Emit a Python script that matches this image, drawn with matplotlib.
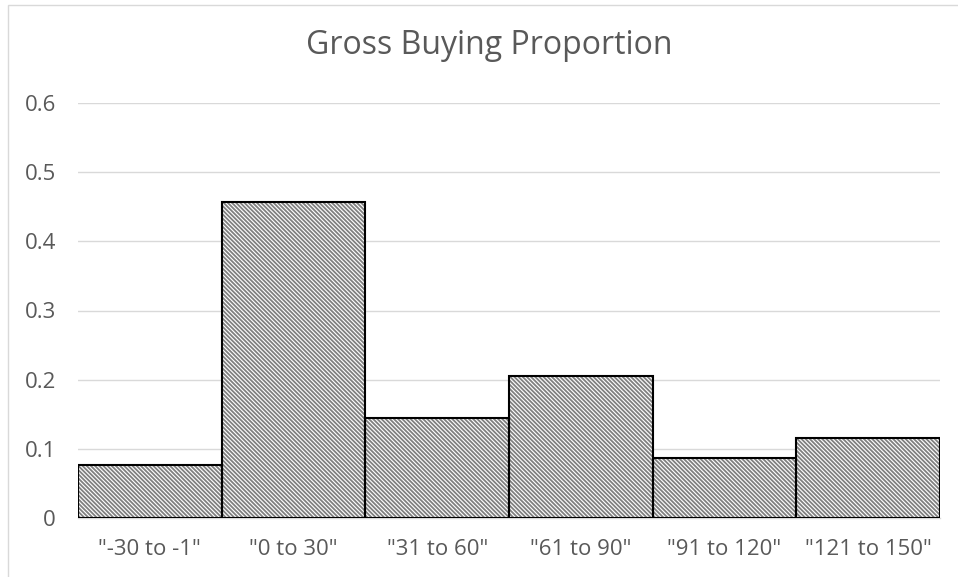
import matplotlib
matplotlib.use("Agg")
import matplotlib.pyplot as plt
import matplotlib.patches as patches

plt.rcParams['font.family'] = ['Open Sans', 'DejaVu Sans']
plt.rcParams['hatch.linewidth'] = 1.3

# data
categories = ['"-30 to -1"', '"0 to 30"', '"31 to 60"', '"61 to 90"', '"91 to 120"', '"121 to 150"']
proportion = [0.076, 0.457, 0.144, 0.205, 0.087, 0.115]
yticks = [0, 0.1, 0.2, 0.3, 0.4, 0.5, 0.6]
ytick_labels = ['0', '0.1', '0.2', '0.3', '0.4', '0.5', '0.6']

fig = plt.figure(figsize=(9.58, 5.77), dpi=100)
ax = fig.add_axes([78 / 958, 1 - 518 / 577, (940 - 78) / 958, (518 - 103) / 577])

x = range(len(categories))
# hatch fill in gray, then black outline on top
ax.bar(x, proportion, width=1.0, color='white', edgecolor='#808080',
       linewidth=0, hatch='\\\\\\\\\\\\\\\\', zorder=3)
ax.bar(x, proportion, width=1.0, fill=False, edgecolor='black',
       linewidth=1.5, zorder=4)

ax.set_xlim(-0.5, len(categories) - 0.5)
ax.set_ylim(0, 0.6)
ax.set_yticks(yticks)
ax.set_yticklabels(ytick_labels)
ax.set_xticks(list(x))
ax.set_xticklabels(categories)

ax.grid(axis='y', color='#d9d9d9', linewidth=1.0, zorder=0)
for s in ['top', 'right', 'left']:
    ax.spines[s].set_visible(False)
ax.spines['bottom'].set_color('#d9d9d9')
ax.spines['bottom'].set_linewidth(1.0)
ax.spines['bottom'].set_zorder(2)

ax.tick_params(axis='both', length=0, labelsize=16, labelcolor='#595959')
ax.tick_params(axis='y', pad=16)
ax.tick_params(axis='x', pad=15)

fig.text(489 / 958, 1 - 45 / 577, 'Gross Buying Proportion', ha='center', va='center',
         fontsize=23, color='#595959')

# chart frame
frame = patches.Rectangle((8 / 958, -0.05), 1.2, 1.05 - 5 / 577, transform=fig.transFigure,
                          fill=False, edgecolor='#d9d9d9', linewidth=1.0)
fig.patches.append(frame)

fig.savefig('out.png', dpi=100)
